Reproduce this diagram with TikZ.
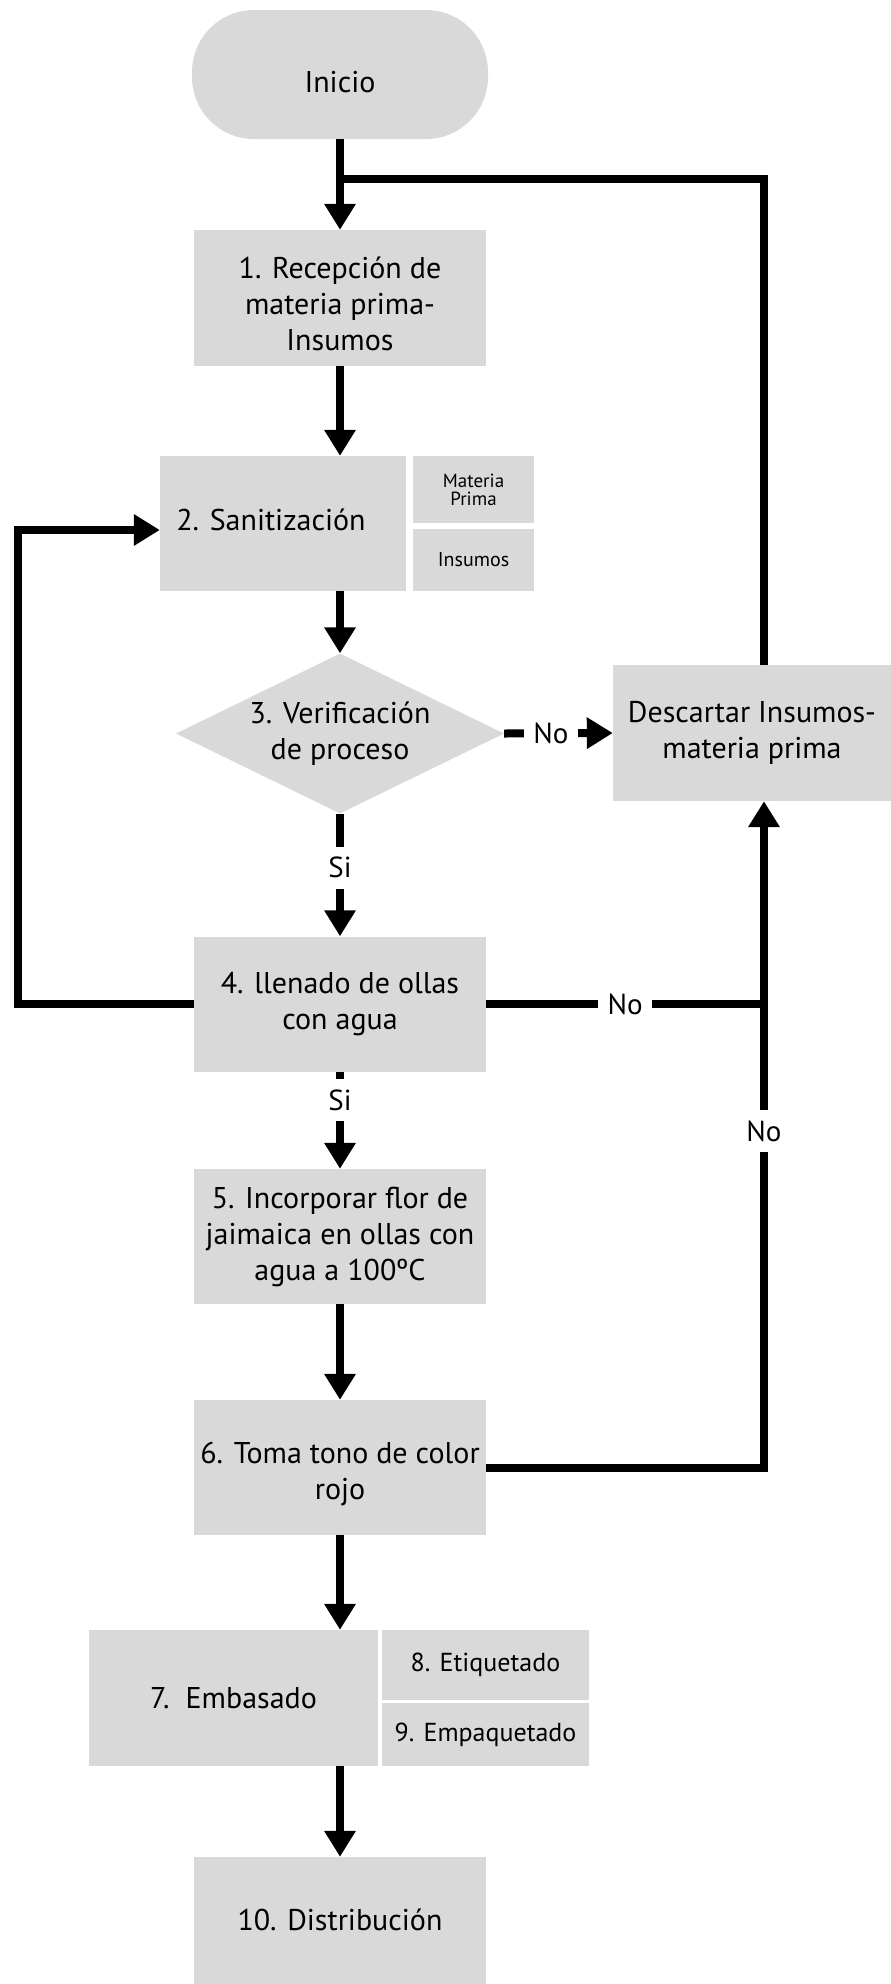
\documentclass[tikz,border=0pt]{standalone}
\usepackage{fontspec}
\setmainfont{PT Sans}
\usetikzlibrary{arrows.meta,shapes.geometric,calc}
\definecolor{boxgray}{HTML}{D9D9D9}
% lower or raise a line of text without changing its box
\newcommand{\nudge}[2]{\raisebox{#1}[\height][\depth]{#2}}
\tikzset{
  box/.style={fill=boxgray, inner sep=0pt, align=center,
    font=\fontsize{30pt}{36pt}\selectfont},
  boxtext/.style={inner sep=0pt, align=center, font=\fontsize{30pt}{36pt}\selectfont},
  mainbox/.style={box, minimum width=292pt, minimum height=135pt},
  smallbox/.style={box, font=\fontsize{19pt}{18pt}\selectfont},
  midbox/.style={box, font=\fontsize{26pt}{30pt}\selectfont},
  startnode/.style={box, rounded corners=62pt, minimum width=296pt, minimum height=129pt},
  decision/.style={box, diamond, aspect=2.05, minimum width=328pt, minimum height=160pt},
  flow/.style={line width=8pt, draw=black},
  arr/.style={flow, -{Triangle[width=30pt,length=26pt]}},
  lbl/.style={fill=white, inner sep=0pt, minimum width=54pt, minimum height=42pt,
    font=\fontsize{29pt}{34pt}\selectfont},
}
\begin{document}
\begin{tikzpicture}[x=1pt,y=-1pt]
\useasboundingbox (0,0) rectangle (891,1984);
\fill[white] (0,0) rectangle (891,1984);
\clip (0,0) rectangle (891,1984);

% main column
\node[startnode] (inicio) at (340,74.5) {\nudge{-8pt}{Inicio}};
\node[mainbox, minimum height=136pt,
  label={[boxtext, yshift=-6pt]center:{1. Recepción de\\materia prima-\\Insumos}}] (b1) at (340,298) {};
\node[box, minimum width=246pt, minimum height=135pt] (b2) at (283,523.5)
  {\hspace*{-24pt}\nudge{4pt}{2. Sanitización}};
\node[smallbox, minimum width=121pt, minimum height=67pt] (mp) at (473.5,489.5) {Materia\\Prima};
\node[smallbox, font=\fontsize{20pt}{20pt}\selectfont, minimum width=121pt, minimum height=62pt] (ins) at (473.5,560) {Insumos};
\node[decision] (dia) at (340,733.5) {3. Verificación\\de proceso};
\node[box, minimum width=278pt, minimum height=136pt] (desc) at (752,733) {Descartar Insumos-\\materia prima};
\node[mainbox] (b4) at (340,1004) {4. llenado de ollas\\con agua};
\node[mainbox] (b5) at (340,1236.5) {5. Incorporar flor de\\jaimaica en ollas con\\agua a 100ºC};
\node[mainbox,
  label={[boxtext, yshift=-6pt]center:{6. Toma tono de color\\rojo}}] (b6) at (340,1467.5) {};
\node[box, minimum width=289pt, minimum height=136pt] (b7) at (233.5,1698) {7.\ \ Embasado};
\node[midbox, minimum width=207pt, minimum height=70pt] (b8) at (485.5,1665) {8. Etiquetado};
\node[midbox, minimum width=207pt, minimum height=63pt] (b9) at (485.5,1734.5) {9. Empaquetado};
\node[mainbox] (b10) at (340,1924.5) {\nudge{5pt}{10. Distribución}};

% routing corners
\coordinate (rx) at (764,179);
\coordinate (lx) at (18,530);

% forward flow
\draw[arr] (inicio.south) -- (b1.north);
\draw[arr] (b1.south) -- (b1.south |- b2.north);
\draw[arr] (b2.south -| dia.north) -- (dia.north);
\draw[arr] (dia.east) -- node[lbl, pos=0.43] {No} (desc.west);
\draw[arr] (dia.south) -- node[lbl, pos=0.44] {Si} (b4.north);
\draw[arr] (b4.south) -- node[lbl, pos=0.29] {Si} (b5.north);
\draw[arr] (b5.south) -- (b6.north);
\draw[arr] (b6.south) -- (b6.south |- b7.north);
\draw[arr] (b10.north |- b7.south) -- (b10.north);

% return loops
\draw[flow] (desc.north -| rx) -- (rx) -- (rx -| inicio.south);
\draw[arr] (b4.west) -| (lx) -- (lx -| b2.west);
\draw[flow] (b4.east) -- node[lbl, pos=0.5] {No} (b4.east -| rx);
\draw[arr] (b6.east) -- (b6.east -| rx) -- node[lbl, pos=0.5045] {No} (desc.south -| rx);
\end{tikzpicture}
\end{document}
